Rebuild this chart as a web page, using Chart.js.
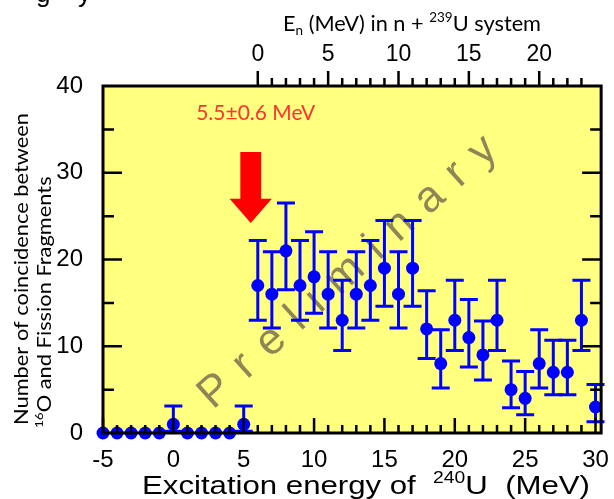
<!DOCTYPE html>
<html>
<head>
<meta charset="utf-8">
<script src="https://cdn.jsdelivr.net/npm/chart.js@4"></script>
<style>
  html, body { margin: 0; padding: 0; background: #fff; }
  canvas { display: block; }
</style>
</head>
<body>
<canvas id="chart" width="614" height="499"></canvas>
<script>
// excitation energy of 240U (MeV)
const energies = [-5, -4, -3, -2, -1, 0, 1, 2, 3, 4, 5, 6, 7, 8, 9, 10, 11, 12,
  13, 14, 15, 16, 17, 18, 19, 20, 21, 22, 23, 24, 25, 26, 27, 28, 29, 30];
// coincidence counts
const counts = [0, 0, 0, 0, 0, 1, 0, 0, 0, 0, 1, 17, 16, 21, 17, 18, 16, 13,
  16, 17, 19, 16, 19, 12, 8, 13, 11, 9, 13, 5, 4, 8, 7, 7, 13, 3];
// error bar ends (null = no bar)
const upper = [null, null, null, null, null, 3.1, null, null, null, null, 3.1, 22.2, 20.9, 26.5, 22.2, 23.2, 20.9, 17.6,
  20.9, 22.2, 24.5, 20.9, 24.5, 16.4, 11.9, 17.6, 15.4, 12.9, 17.6, 8.3, 7.1, 11.9, 10.7, 10.7, 17.6, 5.6];
const lower = [null, null, null, null, null, 0.2, null, null, null, null, 0.2, 13.0, 12.1, 16.5, 13.0, 13.8, 12.1, 9.5,
  12.1, 13.0, 14.6, 12.1, 14.6, 8.6, 5.2, 9.5, 7.6, 6.1, 9.5, 2.9, 2.1, 5.2, 4.4, 4.4, 9.5, 1.3];

const bottomTicks = [-5, 0, 5, 10, 15, 20, 25, 30];
const topTicks = [0, 5, 10, 15, 20];
const yTicks = [0, 10, 20, 30, 40];
const neutronSep = 6;       // En = Ex - 6
const topMinorMax = 23;

const markerValue = 5.5;    // arrow position
const markerLabel = '5.5\u00b10.6 MeV';
const watermark = 'Preliminary';

const xMin = -5, xMax = 30.4;

const sansFont = '"Liberation Sans", Arial, sans-serif';
const calFont = 'Lato, "Open Sans", sans-serif';

function partFont(p, size, family) {
  const s = (p.sup || p.sub) ? size * 0.62 : size;
  return s + 'px ' + family;
}
function richWidth(ctx, parts, size, family) {
  let w = 0;
  parts.forEach(p => { ctx.font = partFont(p, size, family); w += ctx.measureText(p.t).width; });
  return w;
}
function drawRich(ctx, parts, x, y, size, family) {
  let cx = x;
  parts.forEach(p => {
    ctx.font = partFont(p, size, family);
    let dy = 0;
    if (p.sup) dy = -size * 0.42;
    if (p.sub) dy = size * 0.2;
    ctx.fillText(p.t, cx, y + dy);
    cx += ctx.measureText(p.t).width;
  });
}
// draws parts stretched horizontally by factor sx
function drawScaled(ctx, parts, x, y, size, family, sx) {
  ctx.save();
  ctx.translate(x, y);
  ctx.scale(sx, 1);
  drawRich(ctx, parts, 0, 0, size, family);
  ctx.restore();
}

const decor = {
  id: 'decor',
  beforeDraw(chart) {
    const { ctx, chartArea: a } = chart;
    ctx.save();
    ctx.fillStyle = '#ffffff';
    ctx.fillRect(0, 0, chart.width, chart.height);
    ctx.fillStyle = '#ffff80';
    ctx.fillRect(a.left, a.top, a.right - a.left, a.bottom - a.top);
    ctx.restore();
  },
  beforeDatasetsDraw(chart) {
    const { ctx, scales: { x, y } } = chart;
    // watermark
    ctx.save();
    ctx.translate(x.getPixelForValue(12.4), y.getPixelForValue(18.5));
    ctx.rotate(-42 * Math.PI / 180);
    ctx.font = '44px ' + sansFont;
    ctx.fillStyle = '#8e8656';
    ctx.textBaseline = 'middle';
    const chars = watermark.split('');
    const widths = chars.map(c => ctx.measureText(c).width);
    const total = 385;
    const gap = (total - widths.reduce((s, v) => s + v, 0)) / (chars.length - 1);
    let cx = -total / 2;
    chars.forEach((c, i) => { ctx.fillText(c, cx, 0); cx += widths[i] + gap; });
    ctx.restore();

    // error bars
    ctx.save();
    ctx.strokeStyle = '#0000ff';
    ctx.lineWidth = 3;
    energies.forEach((e, i) => {
      if (upper[i] == null) return;
      const px = x.getPixelForValue(e);
      const pt = y.getPixelForValue(upper[i]);
      const pb = y.getPixelForValue(lower[i]);
      ctx.beginPath();
      ctx.moveTo(px, pt); ctx.lineTo(px, pb);
      ctx.moveTo(px - 9, pt); ctx.lineTo(px + 9, pt);
      ctx.moveTo(px - 9, pb); ctx.lineTo(px + 9, pb);
      ctx.stroke();
    });
    ctx.restore();
  },
  afterDatasetsDraw(chart) {
    const { ctx, chartArea: a, scales: { x, x2, y } } = chart;
    ctx.save();
    ctx.strokeStyle = '#000';
    ctx.lineWidth = 2.5;
    ctx.beginPath();
    for (let v = -5; v <= 30; v++) {
      const px = x.getPixelForValue(v);
      const len = v % 5 === 0 ? 15 : 8;
      ctx.moveTo(px, a.bottom); ctx.lineTo(px, a.bottom - len);
    }
    for (let v = 0; v <= topMinorMax; v++) {
      const px = x2.getPixelForValue(v);
      const len = v % 5 === 0 ? 15 : 8;
      ctx.moveTo(px, a.top); ctx.lineTo(px, a.top - len);
    }
    for (let v = 5; v < 40; v += 5) {
      const py = y.getPixelForValue(v);
      const len = v % 10 === 0 ? 19 : 11;
      ctx.moveTo(a.left, py); ctx.lineTo(a.left + len, py);
      ctx.moveTo(a.right, py); ctx.lineTo(a.right - len, py);
    }
    ctx.stroke();
    ctx.lineWidth = 3;
    ctx.strokeRect(a.left, a.top, a.right - a.left, a.bottom - a.top);
    ctx.restore();

    // arrow
    ctx.save();
    ctx.fillStyle = '#ff0000';
    const ax = x.getPixelForValue(markerValue);
    const sw = x.getPixelForValue(markerValue + 0.74) - ax;
    const hw = x.getPixelForValue(markerValue + 1.5) - ax;
    const yTop = y.getPixelForValue(32.4), yBase = y.getPixelForValue(27), yTip = y.getPixelForValue(24.2);
    ctx.beginPath();
    ctx.moveTo(ax - sw, yTop); ctx.lineTo(ax + sw, yTop); ctx.lineTo(ax + sw, yBase);
    ctx.lineTo(ax + hw, yBase); ctx.lineTo(ax, yTip); ctx.lineTo(ax - hw, yBase);
    ctx.lineTo(ax - sw, yBase); ctx.closePath();
    ctx.fill();
    ctx.fillStyle = '#ff3333';
    ctx.font = '21px ' + calFont;
    ctx.textAlign = 'center';
    ctx.textBaseline = 'middle';
    ctx.fillText(markerLabel, x.getPixelForValue(5.85), y.getPixelForValue(36.9));
    ctx.restore();
  },
  afterDraw(chart) {
    const { ctx } = chart;
    ctx.save();
    ctx.fillStyle = '#000';
    ctx.textBaseline = 'alphabetic';

    // cut-off text at the very top
    ctx.font = '26px ' + sansFont;
    ctx.fillText('g', 36, 2);
    ctx.fillText('y', 78, 2);

    // top axis title
    const topParts = [{ t: 'E' }, { t: 'n', sub: true }, { t: ' (MeV) in n + ' }, { t: '239', sup: true }, { t: 'U system' }];
    drawScaled(ctx, topParts, 283, 31, 22, calFont, 258 / richWidth(ctx, topParts, 22, calFont));

    // bottom axis title
    const botParts = [{ t: 'Excitation energy of  ' }, { t: '240', sup: true }, { t: 'U  (MeV)' }];
    drawScaled(ctx, botParts, 142, 494, 26, sansFont, 448 / richWidth(ctx, botParts, 26, sansFont));

    // y axis title (two lines, rotated, same stretch)
    const l1 = [{ t: 'Number of coincidence between' }];
    const l2 = [{ t: '16', sup: true }, { t: 'O and Fission Fragments' }];
    const sy = 312 / richWidth(ctx, l1, 19, calFont);
    ctx.save();
    ctx.translate(28, 425);
    ctx.rotate(-Math.PI / 2);
    drawScaled(ctx, l1, 0, 0, 19, calFont, sy);
    ctx.restore();
    ctx.save();
    ctx.translate(51, 428);
    ctx.rotate(-Math.PI / 2);
    drawScaled(ctx, l2, 0, 0, 19, calFont, sy);
    ctx.restore();
    ctx.restore();
  }
};

new Chart(document.getElementById('chart'), {
  type: 'scatter',
  data: {
    datasets: [{
      data: energies.map((e, i) => ({ x: e, y: counts[i] })),
      backgroundColor: '#0000ff',
      borderWidth: 0,
      pointRadius: 6.5,
      clip: false
    }]
  },
  options: {
    responsive: false,
    animation: false,
    layout: { padding: { left: 0, right: 9, top: 0, bottom: 0 } },
    plugins: { legend: { display: false }, tooltip: { enabled: false } },
    scales: {
      x: {
        type: 'linear', position: 'bottom', min: xMin, max: xMax,
        grid: { display: false }, border: { display: false },
        afterBuildTicks: s => { s.ticks = bottomTicks.map(v => ({ value: v })); },
        afterFit: s => { s.height = 66; },
        ticks: { font: { size: 24, family: sansFont }, color: '#000', padding: 5, maxRotation: 0 }
      },
      x2: {
        type: 'linear', position: 'top', min: xMin - neutronSep, max: xMax - neutronSep,
        grid: { display: false }, border: { display: false },
        afterBuildTicks: s => { s.ticks = topTicks.map(v => ({ value: v })); },
        afterFit: s => { s.height = 86; },
        ticks: { font: { size: 23, family: sansFont }, color: '#000', padding: 10, maxRotation: 0 }
      },
      y: {
        type: 'linear', min: 0, max: 40,
        grid: { display: false }, border: { display: false },
        afterBuildTicks: s => { s.ticks = yTicks.map(v => ({ value: v })); },
        afterFit: s => { s.width = 103; },
        ticks: { font: { size: 24, family: sansFont }, color: '#000', padding: 12 }
      }
    }
  },
  plugins: [decor]
});
</script>
</body>
</html>
